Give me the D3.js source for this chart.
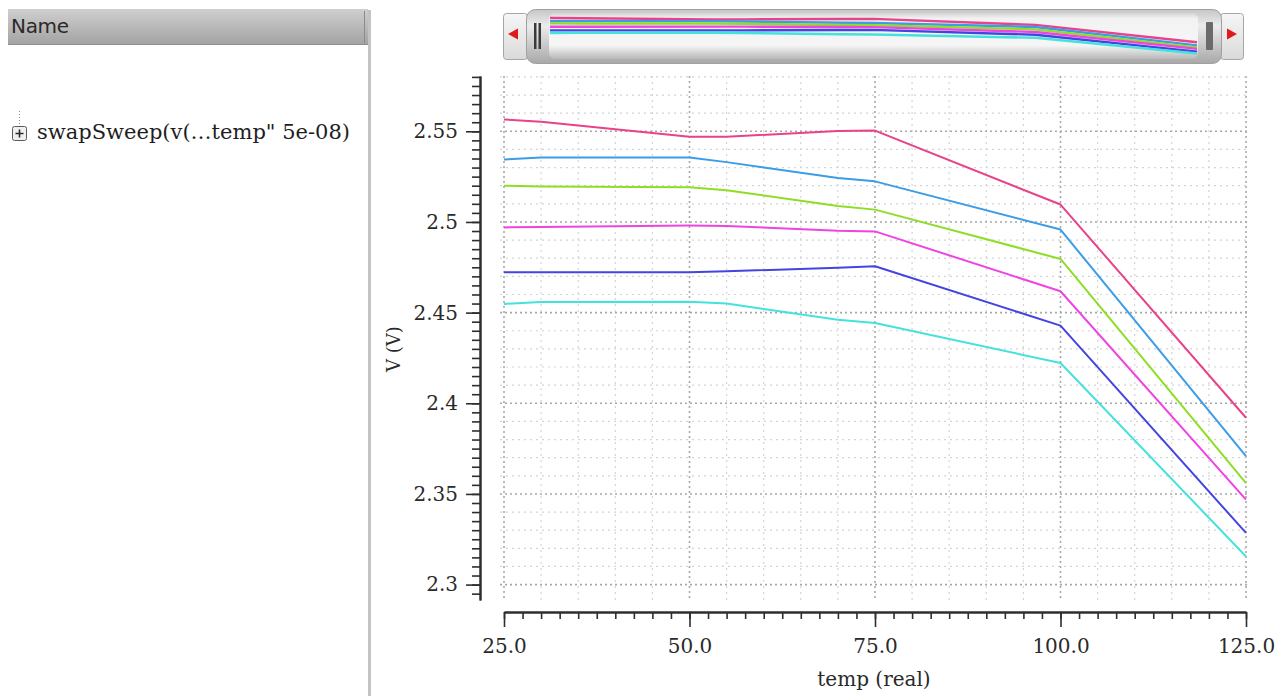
<!DOCTYPE html>
<html>
<head>
<meta charset="utf-8">
<script src="https://cdn.jsdelivr.net/npm/d3@7"></script>
<style>
  body { margin: 0; background: #fff; }
  svg { display: block; }
</style>
</head>
<body>
<svg id="chart" width="1288" height="696"></svg>
<script>
// Sweep temperatures (degrees) and the six output-voltage traces (V)
const temps = [25, 30, 50, 55, 70, 75, 100, 125];
const vTrace1 = [2.5565, 2.5553, 2.5470, 2.5470, 2.5502, 2.5504, 2.5096, 2.3920];
const vTrace2 = [2.5344, 2.5355, 2.5355, 2.5330, 2.5243, 2.5224, 2.4958, 2.3708];
const vTrace3 = [2.5200, 2.5195, 2.5192, 2.5175, 2.5088, 2.5068, 2.4796, 2.3560];
const vTrace4 = [2.4970, 2.4972, 2.4980, 2.4978, 2.4952, 2.4948, 2.4618, 2.3469];
const vTrace5 = [2.4722, 2.4722, 2.4722, 2.4728, 2.4747, 2.4756, 2.4428, 2.3285];
const vTrace6 = [2.4548, 2.4558, 2.4560, 2.4550, 2.4461, 2.4443, 2.4222, 2.3155];
const traceColors = ["#e8428a", "#3c9ce6", "#8ede26", "#f044e2", "#4444e0", "#44e2dc"];

const xTickValues = [25, 50, 75, 100, 125];
const xTickLabels = ["25.0", "50.0", "75.0", "100.0", "125.0"];
const yTickValues = [2.3, 2.35, 2.4, 2.45, 2.5, 2.55];
const yTickLabels = ["2.3", "2.35", "2.4", "2.45", "2.5", "2.55"];

const xLabel = "temp (real)";
const yLabel = "V (V)";
const panelHeader = "Name";
const panelItem = "swapSweep(v(\u2026temp\" 5e-08)";

const traces = [vTrace1, vTrace2, vTrace3, vTrace4, vTrace5, vTrace6];
const FONT = "'DejaVu Serif', serif";

const svg = d3.select("#chart");
const defs = svg.append("defs");

// ---------- left browser panel ----------
const hdrGrad = defs.append("linearGradient").attr("id", "hdrGrad")
  .attr("x1", 0).attr("y1", 0).attr("x2", 0).attr("y2", 1);
hdrGrad.append("stop").attr("offset", "0%").attr("stop-color", "#cfcfcf");
hdrGrad.append("stop").attr("offset", "100%").attr("stop-color", "#a2a2a2");

svg.append("rect").attr("x", 8).attr("y", 9).attr("width", 360).attr("height", 36)
  .attr("fill", "url(#hdrGrad)");
svg.append("line").attr("x1", 8).attr("x2", 368).attr("y1", 44.5).attr("y2", 44.5)
  .attr("stroke", "#8e8e8e");
svg.append("line").attr("x1", 364.5).attr("x2", 364.5).attr("y1", 11).attr("y2", 43)
  .attr("stroke", "#8a8a8a");
svg.append("text").attr("x", 11).attr("y", 33)
  .attr("font-family", "'DejaVu Sans', sans-serif").attr("font-size", 20)
  .attr("letter-spacing", -0.3).attr("fill", "#2a2a2a").text(panelHeader);
svg.append("rect").attr("x", 368).attr("y", 10).attr("width", 3).attr("height", 686)
  .attr("fill", "#c4c4c4");

// tree node with expander box
svg.append("line").attr("x1", 19.5).attr("x2", 19.5).attr("y1", 111).attr("y2", 126)
  .attr("stroke", "#8a8a8a").attr("stroke-dasharray", "1,2");
svg.append("rect").attr("x", 12.5).attr("y", 126.5).attr("width", 14).attr("height", 14)
  .attr("fill", "#f0f0f0").attr("stroke", "#5a5a5a").attr("rx", 2);
svg.append("path").attr("d", "M15.5,133.5H23.5M19.5,129.5V137.5").attr("stroke", "#2a2a2a").attr("stroke-width", 1.6);
svg.append("text").attr("x", 37).attr("y", 139)
  .attr("font-family", FONT).attr("font-size", 21).attr("fill", "#1e1e1e").text(panelItem);

// ---------- main plot scales ----------
const x = d3.scaleLinear().domain([25, 125]).range([504, 1246]);
const y = d3.scaleLinear().domain([2.2915, 2.5805]).range([600, 76]);

// grid
const isMajorV = d => Math.abs(d * 20 - Math.round(d * 20)) < 1e-6;
const gGrid = svg.append("g");
const xMinorGrid = d3.range(25, 125.01, 5);
const yMinorGrid = d3.range(2.30, 2.5805, 0.01).map(v => +v.toFixed(3));
gGrid.selectAll(".vg").data(xMinorGrid).join("line")
  .attr("x1", d => x(d)).attr("x2", d => x(d)).attr("y1", 76).attr("y2", 600)
  .attr("stroke", d => d % 25 === 0 ? "#a8a8a8" : "#d4d4d4")
  .attr("stroke-width", d => d % 25 === 0 ? 1.6 : 1.2)
  .attr("stroke-dasharray", d => d % 25 === 0 ? "2,3" : "2,4");
gGrid.selectAll(".hg").data(yMinorGrid).join("line")
  .attr("x1", 500).attr("x2", 1248).attr("y1", d => y(d)).attr("y2", d => y(d))
  .attr("stroke", d => isMajorV(d) ? "#a8a8a8" : "#d4d4d4")
  .attr("stroke-width", d => isMajorV(d) ? 1.6 : 1.2)
  .attr("stroke-dasharray", d => isMajorV(d) ? "2,3" : "2,4");

// ---------- axes ----------
const axisX = 480;
const axisY = 612;
const yMinorTicks = d3.range(2.295, 2.5805, 0.005).map(v => +v.toFixed(4));
const xMinorTicks = d3.range(25, 125.01, 2.5);

const gy = svg.append("g").attr("transform", `translate(${axisX},0)`);
gy.call(d3.axisLeft(y).tickValues(yMinorTicks).tickSize(8).tickSizeOuter(0).tickFormat(""));
gy.append("g").call(d3.axisLeft(y).tickValues(yTickValues).tickSize(14).tickSizeOuter(0)
  .tickPadding(8).tickFormat((d, i) => yTickLabels[i]));
gy.selectAll("path.domain").attr("stroke", "#2e2e2e").attr("stroke-width", 2);
gy.selectAll(".tick line").attr("stroke", "#2e2e2e").attr("stroke-width", 1.6);
gy.selectAll(".tick text").attr("font-family", FONT).attr("font-size", 20).attr("fill", "#2a2a2a");

const gx = svg.append("g").attr("transform", `translate(0,${axisY})`);
gx.call(d3.axisBottom(x).tickValues(xMinorTicks).tickSize(7).tickSizeOuter(0).tickFormat(""));
gx.append("g").call(d3.axisBottom(x).tickValues(xTickValues).tickSize(15).tickSizeOuter(0)
  .tickPadding(12).tickFormat((d, i) => xTickLabels[i]));
gx.selectAll("path.domain").attr("stroke", "#2e2e2e").attr("stroke-width", 2);
gx.selectAll(".tick line").attr("stroke", "#2e2e2e").attr("stroke-width", 1.6);
gx.selectAll(".tick text").attr("font-family", FONT).attr("font-size", 20).attr("fill", "#2a2a2a");

svg.append("text").attr("x", 874).attr("y", 686).attr("text-anchor", "middle")
  .attr("font-family", FONT).attr("font-size", 20).attr("fill", "#2a2a2a").text(xLabel);
svg.append("text").attr("transform", "translate(400,349) rotate(-90)").attr("text-anchor", "middle")
  .attr("font-family", FONT).attr("font-size", 18).attr("fill", "#2a2a2a").text(yLabel);

// ---------- traces ----------
const line = d3.line().x((d, i) => x(temps[i])).y(d => y(d));
svg.append("g").selectAll("path").data(traces).join("path")
  .attr("d", line).attr("fill", "none")
  .attr("stroke", (d, i) => traceColors[i]).attr("stroke-width", 2)
  .attr("stroke-linejoin", "round");

// ---------- overview scroller ----------
const btnGrad = defs.append("linearGradient").attr("id", "btnGrad")
  .attr("x1", 0).attr("y1", 0).attr("x2", 0).attr("y2", 1);
btnGrad.append("stop").attr("offset", "0%").attr("stop-color", "#f6f6f6");
btnGrad.append("stop").attr("offset", "100%").attr("stop-color", "#dadada");

const tubeGrad = defs.append("linearGradient").attr("id", "tubeGrad")
  .attr("x1", 0).attr("y1", 0).attr("x2", 0).attr("y2", 1);
tubeGrad.append("stop").attr("offset", "0%").attr("stop-color", "#d4d4d4");
tubeGrad.append("stop").attr("offset", "12%").attr("stop-color", "#f2f2f2");
tubeGrad.append("stop").attr("offset", "70%").attr("stop-color", "#f6f6f6");
tubeGrad.append("stop").attr("offset", "100%").attr("stop-color", "#b8b8b8");

const capGrad = defs.append("linearGradient").attr("id", "capGrad")
  .attr("x1", 0).attr("y1", 0).attr("x2", 0).attr("y2", 1);
capGrad.append("stop").attr("offset", "0%").attr("stop-color", "#c6c6c6");
capGrad.append("stop").attr("offset", "30%").attr("stop-color", "#ececec");
capGrad.append("stop").attr("offset", "100%").attr("stop-color", "#a8a8a8");

const gs = svg.append("g");
// arrow buttons
gs.append("rect").attr("x", 503.5).attr("y", 13.5).attr("width", 24).attr("height", 46).attr("rx", 3)
  .attr("fill", "url(#btnGrad)").attr("stroke", "#a6a6a6");
gs.append("path").attr("d", "M508,34L518,28.5V39.5Z").attr("fill", "#e01818");
gs.append("rect").attr("x", 1220.5).attr("y", 13.5).attr("width", 23).attr("height", 46).attr("rx", 3)
  .attr("fill", "url(#btnGrad)").attr("stroke", "#a6a6a6");
gs.append("path").attr("d", "M1237,34L1227,28.5V39.5Z").attr("fill", "#e01818");
// tube with end caps
gs.append("rect").attr("x", 526.5).attr("y", 9.5).attr("width", 695).attr("height", 54).attr("rx", 9)
  .attr("fill", "url(#capGrad)").attr("stroke", "#a0a0a0");
gs.append("rect").attr("x", 549).attr("y", 13).attr("width", 649).attr("height", 46).attr("rx", 6)
  .attr("fill", "url(#tubeGrad)");
gs.append("rect").attr("x", 534).attr("y", 23).attr("width", 2.5).attr("height", 26).attr("fill", "#3a3a3a");
gs.append("rect").attr("x", 538.5).attr("y", 23).attr("width", 2.5).attr("height", 26).attr("fill", "#3a3a3a");
gs.append("rect").attr("x", 1206).attr("y", 22).attr("width", 7).attr("height", 28).attr("rx", 1)
  .attr("fill", "#6a6a6a");

// miniature traces across the full sweep
const xm = d3.scaleLinear().domain([25, 125]).range([550, 1197]);
const ym = d3.scaleLinear().domain([2.3155, 2.5565]).range([53.5, 18]);
const mini = d3.line().x((d, i) => xm(temps[i])).y(d => ym(d));
gs.append("g").selectAll("path").data(traces).join("path")
  .attr("d", mini).attr("fill", "none")
  .attr("stroke", (d, i) => traceColors[i]).attr("stroke-width", 2.4);
</script>
</body>
</html>
